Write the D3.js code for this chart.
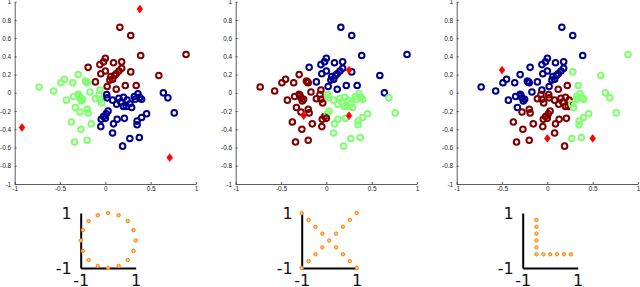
<!DOCTYPE html>
<html>
<head>
<meta charset="utf-8">
<script src="https://cdn.jsdelivr.net/npm/d3@7"></script>
<style>
  body { margin: 0; background: #fff; }
  svg { display: block; }
</style>
</head>
<body>
<svg id="chart" width="640" height="287"></svg>
<script>
// shared 2-D point cloud (same in all three panels)
const points = [
  // upper group
  [0.16, 0.72], [0.28, 0.63], [0.89, 0.42], [0.39, 0.41], [0.59, 0.19], [0.34, 0.08],
  [0.0, 0.38], [-0.02, 0.34], [-0.06, 0.31], [0.09, 0.33], [0.18, 0.34], [0.18, 0.27],
  [0.28, 0.23], [-0.19, 0.28], [0.0, 0.24], [-0.05, 0.21], [0.12, 0.21], [0.06, 0.18],
  [0.08, 0.15], [-0.11, 0.12], [0.02, 0.07], [0.12, 0.04], [0.22, 0.08], [0.15, 0.24],
  [0.05, 0.14], [0.10, 0.19],
  // left group
  [-0.73, 0.065], [-0.57, 0.02], [-0.49, 0.11], [-0.45, 0.15], [-0.36, 0.11], [-0.30, 0.20],
  [-0.43, -0.08], [-0.35, -0.04], [-0.30, -0.015], [-0.28, -0.055], [-0.265, -0.09], [-0.33, -0.16],
  [-0.28, -0.21], [-0.20, -0.18], [-0.19, -0.22], [-0.375, -0.32], [-0.27, -0.40], [-0.34, -0.54],
  [-0.20, -0.52], [-0.155, -0.34], [-0.22, 0.13], [-0.2, 0.11], [-0.17, 0.01], [-0.06, 0.03],
  [-0.11, -0.065], [-0.06, -0.07], [-0.04, -0.11], [-0.07, -0.02], [-0.29, -0.03], [-0.25, -0.07],
  [-0.21, 0.12],
  // lower right group
  [0.015, -0.02], [0.02, -0.055], [0.08, -0.08], [0.125, -0.125], [0.17, -0.10], [0.20, -0.15],
  [0.24, -0.08], [0.23, -0.15], [0.29, -0.16], [0.33, -0.07], [0.36, -0.01], [0.38, -0.05],
  [0.40, -0.07], [0.64, 0.0], [0.69, -0.055], [0.76, -0.22], [0.455, -0.23], [0.40, -0.27],
  [0.35, -0.31], [0.35, -0.35], [0.27, -0.50], [0.375, -0.49], [0.19, -0.585], [0.08, -0.44],
  [0.09, -0.34], [0.13, -0.29], [0.21, -0.28], [-0.05, -0.37], [-0.045, -0.29], [-0.02, -0.26],
  [0.01, -0.23], [0.03, -0.2], [0.15, -0.06], [0.20, -0.05], [0.27, -0.12], [0.0, -0.28],
  [0.32, -0.04]
];

// cluster of each point in each panel: r = dark red, g = light green, b = dark blue
const labelsCircle = [...(
  'rrrrrrrrrrrrrrrrrrrrrrrrrr' +
  'ggggggggggggggggggggggggggggggg' +
  'bbbbbbbbbbbbbbbbbbbbbbbbbbbbbbbbbbbbb')];
const labelsX = [...(
  'bbbbbbbbbbbbbbbbbbbbbbbbbb' +
  'rrrrrrrrrrrrrrrrrrrrrrrrrrrrrrr' +
  'gggggggggggggbgggggggggggggrrrgggggrg')];
const labelsL = [...(
  'bbgbggbbbbbbgbbbbbbbbrrbbb' +
  'bbbbbbbbbbbbrrrrrrrrbbbbrrrrbbb' +
  'rrrrrrrrggggggggggggggrrrrrrrrrrrrgrg')];

// red diamonds (cluster prototypes)
const protosCircle = [[0.38, 0.92], [-0.92, -0.38], [0.71, -0.71]];
const protosX = [[0.25, 0.25], [-0.25, -0.25], [0.25, -0.25]];
const protosL = [[-0.5, 0.25], [0, -0.5], [0.5, -0.5]];

// glyph shapes drawn under each panel
const glyphCircle = [
  [0, 1], [0.38, 0.92], [0.71, 0.71], [0.92, 0.38], [1, 0], [0.92, -0.38], [0.71, -0.71], [0.38, -0.92],
  [0, -1], [-0.38, -0.92], [-0.71, -0.71], [-0.92, -0.38], [-1, 0], [-0.92, 0.38], [-0.71, 0.71], [-0.38, 0.92]
];
const glyphX = [
  [-1, 1], [-0.75, 0.75], [-0.5, 0.5], [-0.25, 0.25], [0, 0], [0.25, 0.25], [0.5, 0.5], [0.75, 0.75], [1, 1],
  [-0.25, -0.25], [-0.5, -0.5], [-0.75, -0.75], [-1, -1], [0.25, -0.25], [0.5, -0.5], [0.75, -0.75], [1, -1]
];
const glyphL = [
  [-0.5, 0.75], [-0.5, 0.5], [-0.5, 0.25], [-0.5, 0], [-0.5, -0.25], [-0.5, -0.5],
  [-0.25, -0.5], [0, -0.5], [0.25, -0.5], [0.5, -0.5], [0.75, -0.5]
];

const xTicks = [-1, -0.5, 0, 0.5, 1];
const yTicks = [1, 0.8, 0.6, 0.4, 0.2, 0, -0.2, -0.4, -0.6, -0.8, -1];
const glyphTicks = [-1, 1];

const clusterColor = { r: '#800000', g: '#80ff70', b: '#00008f' };

const svg = d3.select('#chart');
const plotTop = 1.7, plotBottom = 184, plotWidth = 181.3;
const panelLefts = [14.7, 235.7, 456.7];

const panels = [
  { labels: labelsCircle, protos: protosCircle, glyph: glyphCircle },
  { labels: labelsX, protos: protosX, glyph: glyphX },
  { labels: labelsL, protos: protosL, glyph: glyphL }
];

const fmt = d => String(Math.round(d * 10) / 10);
const diamond = 'M0,-3.9L2.9,0L0,3.9L-2.9,0Z';

panels.forEach((p, i) => {
  const left = panelLefts[i];
  const x = d3.scaleLinear().domain([-1, 1]).range([left, left + plotWidth]);
  const y = d3.scaleLinear().domain([-1, 1]).range([plotBottom, plotTop]);

  const g = svg.append('g');

  const ax = g.append('g')
    .attr('transform', `translate(0,${plotBottom})`)
    .call(d3.axisBottom(x).tickValues(xTicks).tickFormat(fmt).tickSize(-2).tickSizeOuter(0).tickPadding(2.5))
  const ay = g.append('g')
    .attr('transform', `translate(${left},0)`)
    .call(d3.axisLeft(y).tickValues(yTicks).tickFormat(fmt).tickSize(-2).tickSizeOuter(0).tickPadding(3.5))
  ;[ax, ay].forEach(a => {
    a.selectAll('path, line').attr('stroke', '#333').attr('stroke-width', 0.8)
    a.selectAll('text').attr('fill', '#222')
      .style('font-family', '"Liberation Sans", Arial, sans-serif').style('font-size', '6.5px')
  })

  g.append('g').selectAll('circle')
    .data(points)
    .join('circle')
    .attr('cx', d => x(d[0]))
    .attr('cy', d => y(d[1]))
    .attr('r', 2.8)
    .attr('fill', 'none')
    .attr('stroke', (d, j) => clusterColor[p.labels[j]])
    .attr('stroke-width', 2)

  g.append('g').selectAll('path')
    .data(p.protos)
    .join('path')
    .attr('d', diamond)
    .attr('transform', d => `translate(${x(d[0])},${y(d[1])})`)
    .attr('fill', '#ff0000')
    .attr('stroke', '#ff0000')
    .attr('stroke-width', 0.6)

  // glyph under the panel
  const gl = left + 66
  const gx = d3.scaleLinear().domain([-1, 1]).range([gl, gl + 55])
  const gy = d3.scaleLinear().domain([-1, 1]).range([268, 213])
  const gg = svg.append('g')

  const gax = gg.append('g')
    .attr('transform', 'translate(0,268)')
    .call(d3.axisBottom(gx).tickValues(glyphTicks).tickFormat(fmt).tickSize(0).tickPadding(7))
  const gay = gg.append('g')
    .attr('transform', `translate(${gl},0)`)
    .call(d3.axisLeft(gy).tickValues(glyphTicks).tickFormat(fmt).tickSize(0).tickPadding(9))
  ;[gax, gay].forEach(a => {
    a.selectAll('path').attr('stroke', '#000').attr('stroke-width', 2)
    a.selectAll('text').attr('fill', '#111')
      .style('font-family', '"DejaVu Sans", sans-serif').style('font-size', '16px')
  })

  gg.append('g').selectAll('circle')
    .data(p.glyph)
    .join('circle')
    .attr('cx', d => gx(d[0]))
    .attr('cy', d => gy(d[1]))
    .attr('r', 1.7)
    .attr('fill', '#ffc080')
    .attr('stroke', '#ff8000')
    .attr('stroke-width', 1)
})
</script>
</body>
</html>
